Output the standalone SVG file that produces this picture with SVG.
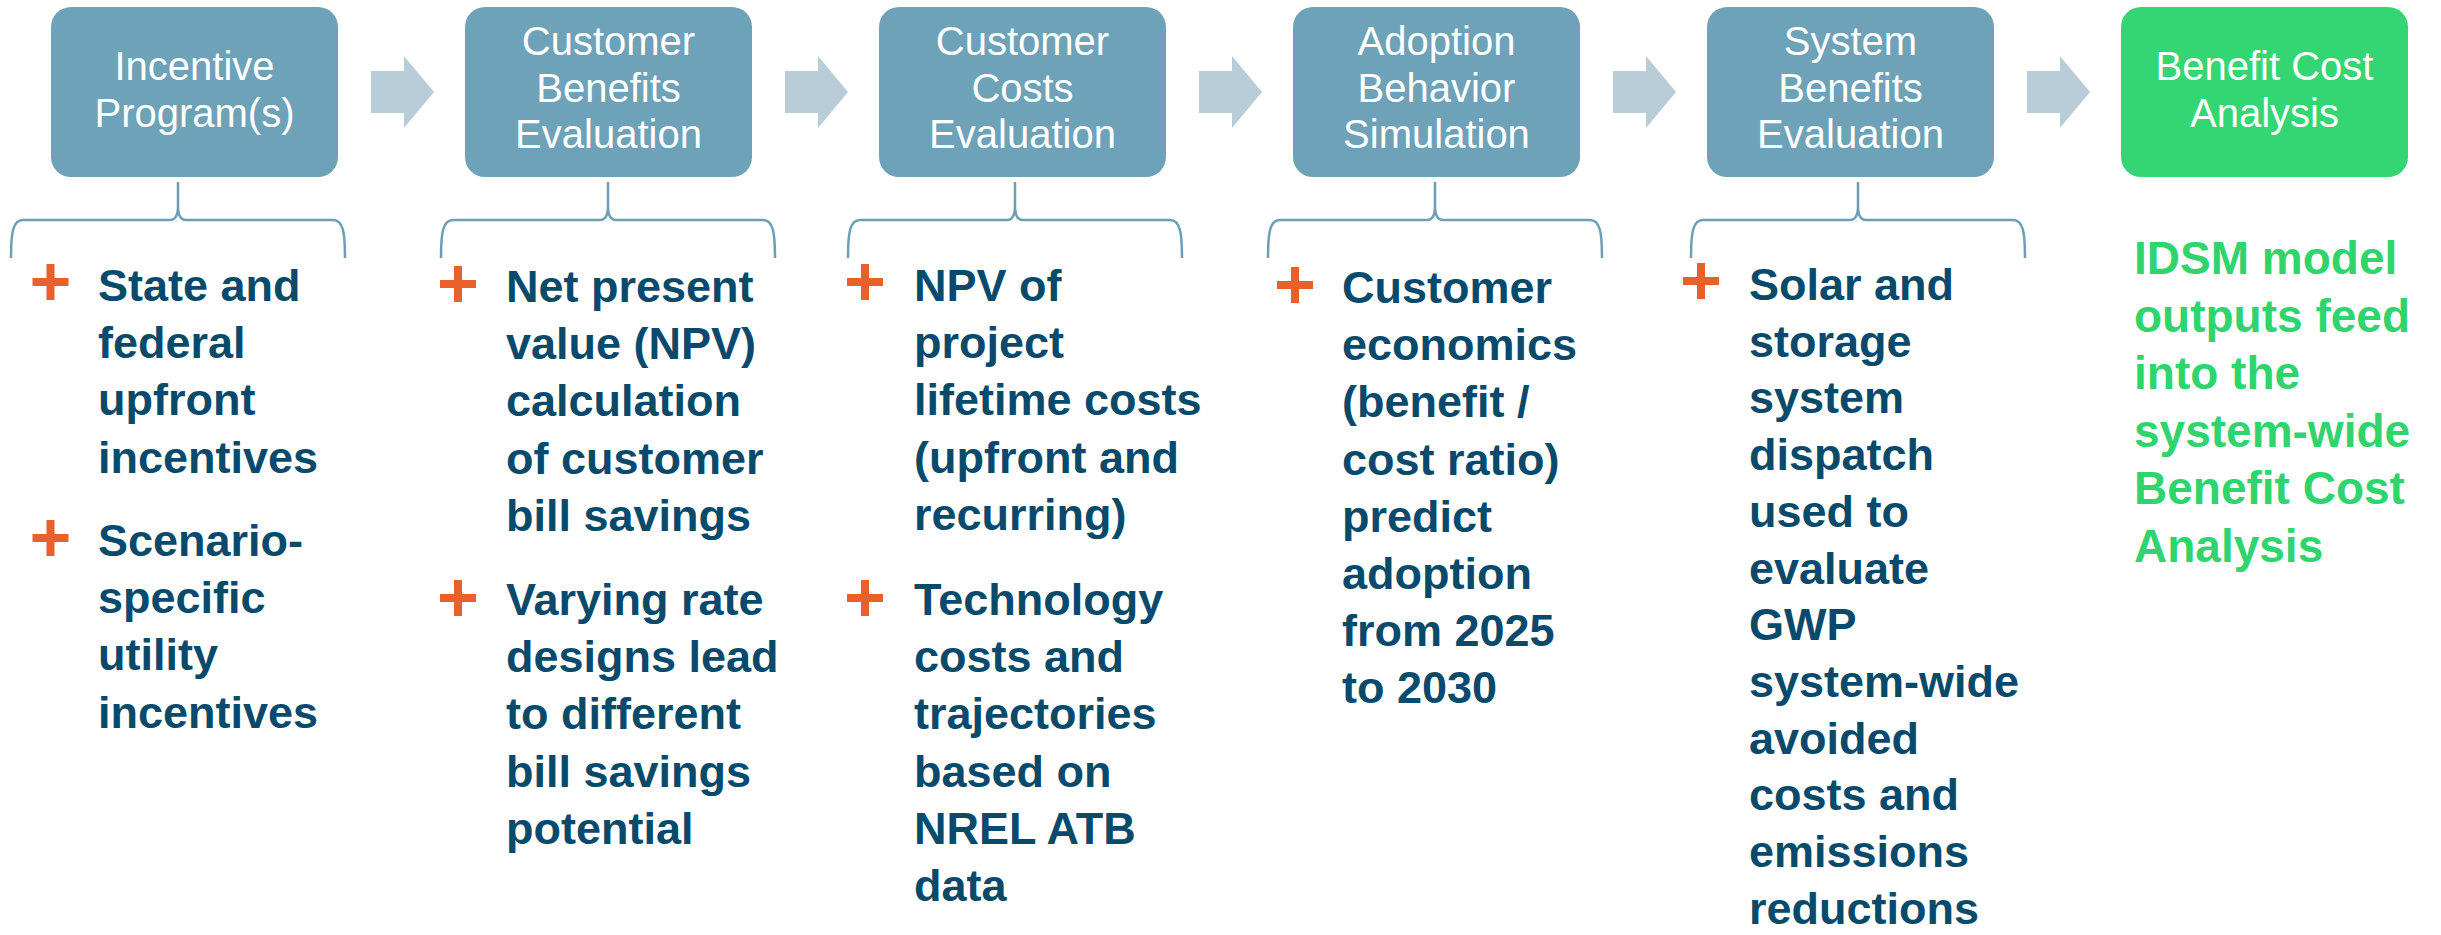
<svg xmlns="http://www.w3.org/2000/svg" width="2441" height="935" viewBox="0 0 2441 935">
<style>
.box{fill:#6DA2B8}
.gbox{fill:#34D673}
.btxt{font-family:"Liberation Sans",Arial,sans-serif;font-size:40px;fill:#FFFFFF;text-anchor:middle}
.arrow{fill:#B9CDD8}
.brace{fill:none;stroke:#6A9FB6;stroke-width:2.5}
.item{font-family:"Liberation Sans",Arial,sans-serif;font-size:45px;font-weight:bold;fill:#084A6C}
.green{font-family:"Liberation Sans",Arial,sans-serif;font-size:46px;font-weight:bold;fill:#30D46F}
.plus{fill:#E8612C}
</style>
<defs>
<path id="plus" d="M-4,-18h8v14h14v8h-14v14h-8v-14h-14v-8h14z"/>
<path id="arr" d="M0,71 L33,71 L33,56 L63,92 L33,128 L33,113 L0,113 Z"/>
</defs>
<rect width="2441" height="935" fill="#FFFFFF"/>

<g id="connectors">
<use href="#arr" class="arrow" x="371"/>
<use href="#arr" class="arrow" x="785"/>
<use href="#arr" class="arrow" x="1199"/>
<use href="#arr" class="arrow" x="1613"/>
<use href="#arr" class="arrow" x="2027"/>
<path class="brace" d="M11,258 C11,232 13,220 23,220 L170,220 C175,220 178,216 178,206 L178,182 M178,206 C178,216 181,220 186,220 L333,220 C343,220 345,232 345,258"/>
<path class="brace" d="M441,258 C441,232 443,220 453,220 L600,220 C605,220 608,216 608,206 L608,182 M608,206 C608,216 611,220 616,220 L763,220 C773,220 775,232 775,258"/>
<path class="brace" d="M848,258 C848,232 850,220 860,220 L1007,220 C1012,220 1015,216 1015,206 L1015,182 M1015,206 C1015,216 1018,220 1023,220 L1170,220 C1180,220 1182,232 1182,258"/>
<path class="brace" d="M1268,258 C1268,232 1270,220 1280,220 L1427,220 C1432,220 1435,216 1435,206 L1435,182 M1435,206 C1435,216 1438,220 1443,220 L1590,220 C1600,220 1602,232 1602,258"/>
<path class="brace" d="M1691,258 C1691,232 1693,220 1703,220 L1850,220 C1855,220 1858,216 1858,206 L1858,182 M1858,206 C1858,216 1861,220 1866,220 L2013,220 C2023,220 2025,232 2025,258"/>
</g>

<g id="node-incentive">
<rect class="box" x="51" y="7" width="287" height="170" rx="20"/>
<text class="btxt" x="194.5" y="80">Incentive</text>
<text class="btxt" x="194.5" y="127">Program(s)</text>
<use href="#plus" class="plus" x="50.5" y="282"/>
<text class="item" x="98" y="301">State and<tspan x="98" dy="57.2">federal</tspan><tspan x="98" dy="57.2">upfront</tspan><tspan x="98" dy="57.2">incentives</tspan></text>
<use href="#plus" class="plus" x="50.5" y="538"/>
<text class="item" x="98" y="556">Scenario-<tspan x="98" dy="57.2">specific</tspan><tspan x="98" dy="57.2">utility</tspan><tspan x="98" dy="57.2">incentives</tspan></text>
</g>

<g id="node-customer-benefits">
<rect class="box" x="465" y="7" width="287" height="170" rx="20"/>
<text class="btxt" x="608.5" y="55">Customer</text>
<text class="btxt" x="608.5" y="102">Benefits</text>
<text class="btxt" x="608.5" y="148">Evaluation</text>
<use href="#plus" class="plus" x="458" y="284"/>
<text class="item" x="506" y="302">Net present<tspan x="506" dy="57.2">value (NPV)</tspan><tspan x="506" dy="57.2">calculation</tspan><tspan x="506" dy="57.2">of customer</tspan><tspan x="506" dy="57.2">bill savings</tspan></text>
<use href="#plus" class="plus" x="458" y="598"/>
<text class="item" x="506" y="615">Varying rate<tspan x="506" dy="57.2">designs lead</tspan><tspan x="506" dy="57.2">to different</tspan><tspan x="506" dy="57.2">bill savings</tspan><tspan x="506" dy="57.2">potential</tspan></text>
</g>

<g id="node-customer-costs">
<rect class="box" x="879" y="7" width="287" height="170" rx="20"/>
<text class="btxt" x="1022.5" y="55">Customer</text>
<text class="btxt" x="1022.5" y="102">Costs</text>
<text class="btxt" x="1022.5" y="148">Evaluation</text>
<use href="#plus" class="plus" x="865" y="282"/>
<text class="item" x="914" y="301">NPV of<tspan x="914" dy="57.2">project</tspan><tspan x="914" dy="57.2">lifetime costs</tspan><tspan x="914" dy="57.2">(upfront and</tspan><tspan x="914" dy="57.2">recurring)</tspan></text>
<use href="#plus" class="plus" x="865" y="598"/>
<text class="item" x="914" y="615">Technology<tspan x="914" dy="57.2">costs and</tspan><tspan x="914" dy="57.2">trajectories</tspan><tspan x="914" dy="57.2">based on</tspan><tspan x="914" dy="57.2">NREL ATB</tspan><tspan x="914" dy="57.2">data</tspan></text>
</g>

<g id="node-adoption">
<rect class="box" x="1293" y="7" width="287" height="170" rx="20"/>
<text class="btxt" x="1436.5" y="55">Adoption</text>
<text class="btxt" x="1436.5" y="102">Behavior</text>
<text class="btxt" x="1436.5" y="148">Simulation</text>
<use href="#plus" class="plus" x="1295" y="285"/>
<text class="item" x="1342" y="303">Customer<tspan x="1342" dy="57.2">economics</tspan><tspan x="1342" dy="57.2">(benefit /</tspan><tspan x="1342" dy="57.2">cost ratio)</tspan><tspan x="1342" dy="57.2">predict</tspan><tspan x="1342" dy="57.2">adoption</tspan><tspan x="1342" dy="57.2">from 2025</tspan><tspan x="1342" dy="57.2">to 2030</tspan></text>
</g>

<g id="node-system-benefits">
<rect class="box" x="1707" y="7" width="287" height="170" rx="20"/>
<text class="btxt" x="1850.5" y="55">System</text>
<text class="btxt" x="1850.5" y="102">Benefits</text>
<text class="btxt" x="1850.5" y="148">Evaluation</text>
<use href="#plus" class="plus" x="1701" y="281"/>
<text class="item" x="1749" y="300">Solar and<tspan x="1749" dy="56.7">storage</tspan><tspan x="1749" dy="56.7">system</tspan><tspan x="1749" dy="56.7">dispatch</tspan><tspan x="1749" dy="56.7">used to</tspan><tspan x="1749" dy="56.7">evaluate</tspan><tspan x="1749" dy="56.7">GWP</tspan><tspan x="1749" dy="56.7">system-wide</tspan><tspan x="1749" dy="56.7">avoided</tspan><tspan x="1749" dy="56.7">costs and</tspan><tspan x="1749" dy="56.7">emissions</tspan><tspan x="1749" dy="56.7">reductions</tspan></text>
</g>

<g id="node-bca">
<rect class="gbox" x="2121" y="7" width="287" height="170" rx="20"/>
<text class="btxt" x="2264.5" y="80">Benefit Cost</text>
<text class="btxt" x="2264.5" y="127">Analysis</text>
<text class="green" x="2134" y="274">IDSM model<tspan x="2134" dy="57.5">outputs feed</tspan><tspan x="2134" dy="57.5">into the</tspan><tspan x="2134" dy="57.5">system-wide</tspan><tspan x="2134" dy="57.5">Benefit Cost</tspan><tspan x="2134" dy="57.5">Analysis</tspan></text>
</g>
</svg>
